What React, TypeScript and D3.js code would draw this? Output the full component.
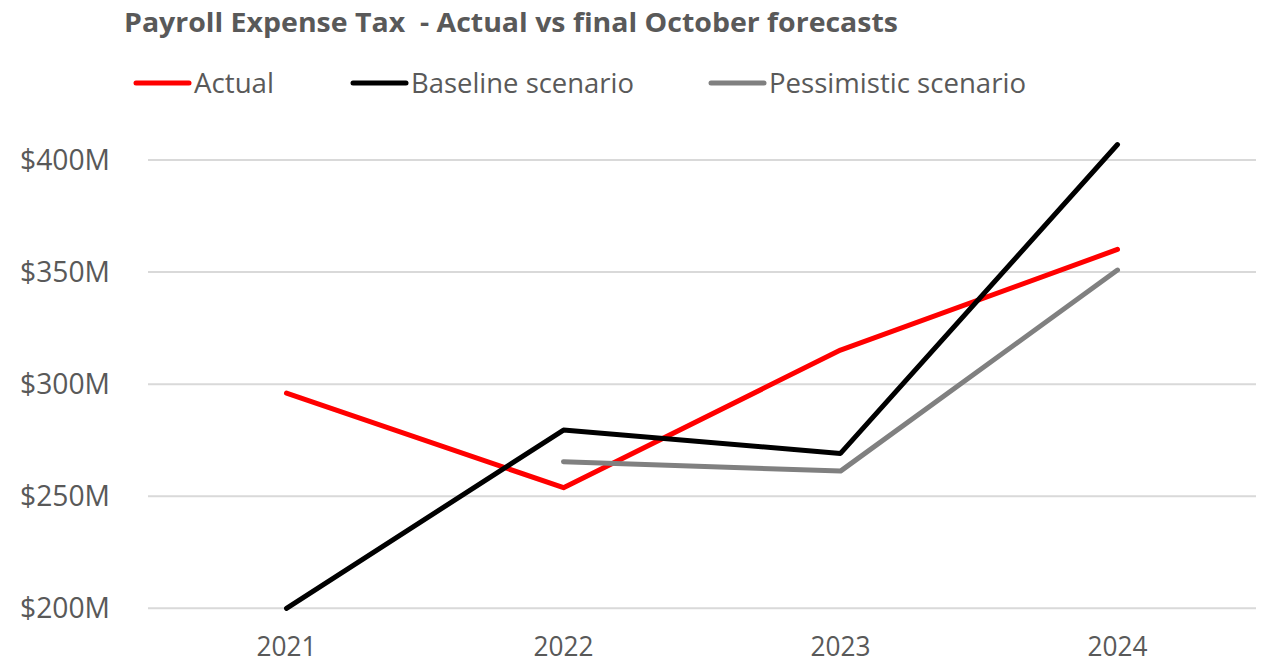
import * as d3 from 'd3'
import { useEffect, useRef } from 'react'

const years = ['2021', '2022', '2023', '2024']
const actual: (number | null)[] = [296, 253.8, 315.2, 360.1]
const baseline: (number | null)[] = [200, 279.5, 269.1, 406.9]
const pessimistic: (number | null)[] = [null, 265.4, 261.2, 350.9]
const yTicks = [200, 250, 300, 350, 400]
const seriesNames = ['Actual', 'Baseline scenario', 'Pessimistic scenario']
const seriesColors = ['#ff0000', '#000000', '#808080']

const W = 1266
const H = 664
const FONT = "'Open Sans', 'Noto Sans', sans-serif"
const TEXT = '#595959'

export default function App() {
  const svgRef = useRef<SVGSVGElement>(null)

  useEffect(() => {
    const svg = d3.select(svgRef.current)
    svg.selectAll('*').remove()

    const x = d3.scaleBand().domain(years).range([148, 1256])
    const y = d3.scaleLinear().domain([200, 400]).range([608.3, 160])

    // gridlines
    svg.append('g')
       .selectAll('line')
       .data(yTicks)
       .join('line')
       .attr('x1', 148)
       .attr('x2', 1256)
       .attr('y1', d => y(d))
       .attr('y2', d => y(d))
       .attr('stroke', '#d9d9d9')
       .attr('stroke-width', 2)

    // y labels
    svg.append('g')
       .selectAll('text')
       .data(yTicks)
       .join('text')
       .attr('x', 110)
       .attr('y', d => y(d) + 10)
       .attr('text-anchor', 'end')
       .attr('font-family', FONT)
       .attr('font-size', 30)
       .attr('fill', TEXT)
       .attr('textLength', 90)
       .attr('lengthAdjust', 'spacingAndGlyphs')
       .text(d => `$${d}M`)

    // x labels
    svg.append('g')
       .selectAll('text')
       .data(years)
       .join('text')
       .attr('x', d => (x(d) ?? 0) + x.bandwidth() / 2)
       .attr('y', 656)
       .attr('text-anchor', 'middle')
       .attr('font-family', FONT)
       .attr('font-size', 28)
       .attr('fill', TEXT)
       .attr('textLength', 60)
       .attr('lengthAdjust', 'spacingAndGlyphs')
       .text(d => d)

    const line = d3.line<number | null>()
                   .defined(d => d !== null)
                   .x((d, i) => (x(years[i]) ?? 0) + x.bandwidth() / 2)
                   .y(d => y(d as number))

    const all = [actual, baseline, pessimistic]
    all.forEach((s, i) => {
      svg.append('path')
         .datum(s)
         .attr('fill', 'none')
         .attr('stroke', seriesColors[i])
         .attr('stroke-width', 5)
         .attr('stroke-linecap', 'round')
         .attr('stroke-linejoin', 'round')
         .attr('d', line)
    })

    // title
    svg.append('text')
       .attr('x', 124)
       .attr('y', 32)
       .attr('font-family', FONT)
       .attr('font-weight', 'bold')
       .attr('font-size', 27)
       .attr('fill', TEXT)
       .attr('textLength', 774)
       .attr('lengthAdjust', 'spacingAndGlyphs')
       .style('white-space', 'pre')
       .text('Payroll Expense Tax  - Actual vs final October forecasts')

    // legend
    const legendX = [136, 353, 711]
    const legendTextW = [80, 223, 257]
    seriesNames.forEach((name, i) => {
      const g = svg.append('g')
      g.append('line')
       .attr('x1', legendX[i])
       .attr('x2', legendX[i] + 53)
       .attr('y1', 83)
       .attr('y2', 83)
       .attr('stroke', seriesColors[i])
       .attr('stroke-width', 5)
       .attr('stroke-linecap', 'round')
      g.append('text')
       .attr('x', legendX[i] + 58)
       .attr('y', 93)
       .attr('font-family', FONT)
       .attr('font-size', 28)
       .attr('fill', TEXT)
       .attr('textLength', legendTextW[i])
       .attr('lengthAdjust', 'spacingAndGlyphs')
       .text(name)
    })
  }, [])

  return (
    <svg ref={svgRef} width={W} height={H}
         style={{ display: 'block', position: 'absolute', left: 0, top: 0, background: '#fff' }} />
  )
}
